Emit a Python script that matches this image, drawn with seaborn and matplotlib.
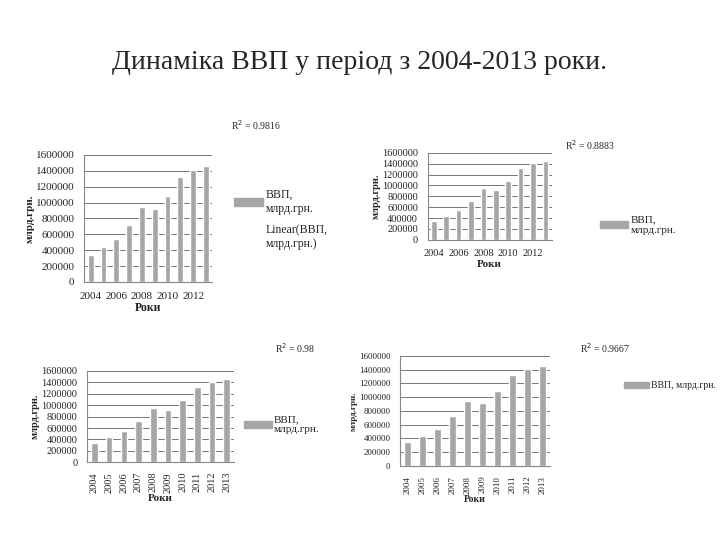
import numpy as np
import pandas as pd
import seaborn as sns
import matplotlib.pyplot as plt
from matplotlib.patches import Patch
from matplotlib.ticker import FuncFormatter

# data
years = [2004, 2005, 2006, 2007, 2008, 2009, 2010, 2011, 2012, 2013]
gdp = [345000, 441000, 544000, 721000, 948000, 913000, 1083000, 1317000, 1409000, 1455000]
r2_labels = ["R$^2$ = 0.9816", "R$^2$ = 0.8883", "R$^2$ = 0.98", "R$^2$ = 0.9667"]
title = "Динаміка ВВП у період з 2004-2013 роки."

df = pd.DataFrame({"year": years, "gdp": gdp})

sns.set_theme(style="white")
plt.rcParams['font.family'] = ['Liberation Serif', 'DejaVu Serif']

fig = plt.figure(figsize=(7.2, 5.4), dpi=100)
fig.text(0.5, 0.885, title, ha="center", va="center", fontsize=20)

# (axes rect, rotate ticks, r2 pos, legend pos, legend labels, fontsize)
layouts = [
    ([0.117, 0.478, 0.178, 0.235], False, (0.355, 0.768), (0.31, 0.67),
     ["ВВП,\nмлрд.грн.", "Linear(ВВП,\nмлрд.грн.)"], 8),
    ([0.594, 0.556, 0.172, 0.161], False, (0.82, 0.732), (0.82, 0.62),
     ["ВВП,\nмлрд.грн."], 7.5),
    ([0.121, 0.144, 0.204, 0.169], True, (0.41, 0.355), (0.325, 0.25),
     ["ВВП,\nмлрд.грн."], 7.5),
    ([0.556, 0.137, 0.208, 0.204], True, (0.84, 0.355), (0.855, 0.31),
     ["ВВП, млрд.грн."], 6.5),
]

for i, (rect, rot, r2pos, legpos, leglabs, fs) in enumerate(layouts):
    ax = fig.add_axes(rect)
    ax.set_axisbelow(True)
    sns.barplot(data=df, x="year", y="gdp", color="#a6a6a6", width=0.45,
                saturation=1, ax=ax)
    ax.set_ylim(0, 1600000)
    ax.set_yticks(np.arange(0, 1600001, 200000))
    ax.yaxis.set_major_formatter(FuncFormatter(lambda v, p: f"{int(v)}"))
    ax.yaxis.grid(True, color="#777777", linewidth=0.7)
    ax.tick_params(axis="y", labelsize=fs, pad=1)
    ax.tick_params(axis="x", labelsize=fs, pad=1)
    if rot:
        ax.set_xticks(range(len(years)))
        ax.set_xticklabels([str(y) for y in years], rotation=90)
    else:
        ax.set_xticks(range(0, len(years), 2))
        ax.set_xticklabels([str(y) for y in years[::2]])
    for s in ["top", "right"]:
        ax.spines[s].set_visible(False)
    for s in ["left", "bottom"]:
        ax.spines[s].set_color("#888888")
        ax.spines[s].set_linewidth(0.8)
    ax.set_xlabel("Роки", fontsize=fs + 0.5, fontweight="bold", labelpad=1)
    ax.set_ylabel("млрд.грн.", fontsize=fs, fontweight="bold", labelpad=1)
    fig.text(r2pos[0], r2pos[1], r2_labels[i], fontsize=7, ha="center", va="center")
    handles = [Patch(color="#a6a6a6", label=leglabs[0])]
    handles += [Patch(color="none", label=l) for l in leglabs[1:]]
    fig.legend(handles=handles, loc="upper left", bbox_to_anchor=legpos,
               frameon=False, fontsize=fs + 0.5, handlelength=2.5, handleheight=0.6,
               handletextpad=0.2, labelspacing=0.8)

fig.savefig("out.png", dpi=100)
